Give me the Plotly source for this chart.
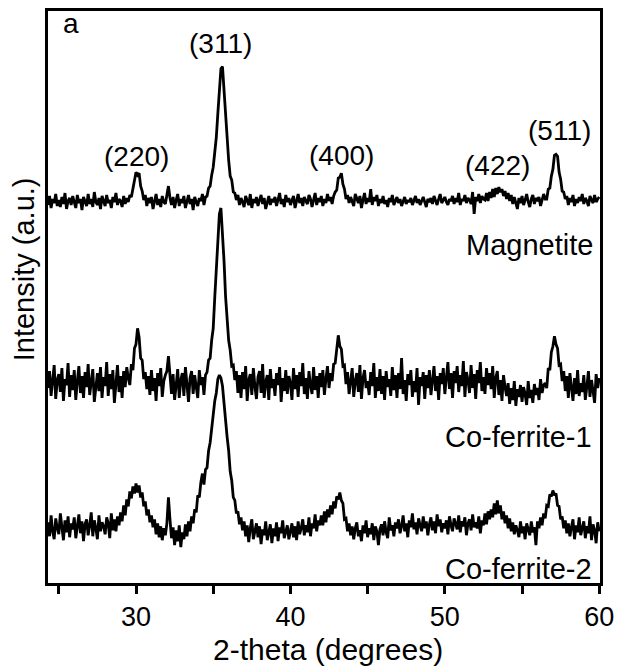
import numpy as np
import plotly.graph_objects as go

# 2-theta scan grid (degrees), 0.1 degree step from 24.3 to 60.0
THETA_START = 24.3
THETA_STEP = 0.1

# Stacked intensities (a.u.), one row per degree
magnetite = [
    380, 389, 377, 386, 382, 391, 379,
    385, 378, 388, 381, 392, 376, 384, 387, 380, 389,
    383, 377, 390, 382, 386, 375, 388, 384, 379, 391,
    381, 386, 378, 393, 383, 380, 387, 376, 389, 384,
    379, 390, 382, 385, 377, 388, 383, 392, 380, 386,
    384, 378, 389, 381, 387, 383, 390, 388, 397, 403,
    413, 410, 412, 399, 394, 385, 390, 379, 387, 382,
    388, 376, 385, 391, 380, 386, 378, 389, 383, 381,
    390, 399, 387, 380, 388, 377, 385, 391, 379, 386,
    382, 389, 377, 384, 390, 381, 386, 375, 388, 383,
    379, 387, 384, 391, 380, 388, 389, 397, 399, 410,
    418, 433, 448, 472, 494, 517, 519, 493, 472, 448,
    425, 409, 405, 393, 392, 385, 390, 380, 387, 383,
    378, 389, 384, 380, 391, 377, 386, 382, 388, 379,
    385, 390, 381, 387, 376, 384, 389, 380, 386, 383,
    388, 379, 385, 392, 381, 386, 378, 390, 383, 387,
    380, 386, 389, 377, 384, 391, 382, 387, 379, 388,
    384, 381, 390, 386, 378, 385, 392, 380, 387, 383,
    389, 379, 386, 382, 391, 384, 388, 381, 389, 393,
    395, 407, 408, 412, 401, 396, 386, 390, 382, 388,
    384, 379, 391, 386, 382, 389, 377, 385, 392, 381,
    387, 383, 396, 380, 388, 384, 390, 379, 386, 382,
    389, 381, 385, 378, 387, 383, 390, 380, 385, 388,
    382, 386, 379, 384, 388, 381, 385, 383, 387, 380,
    385, 389, 382, 386, 380, 384, 388, 383, 378, 386,
    383, 387, 381, 389, 384, 380, 386, 391, 382, 385,
    388, 383, 380, 386, 384, 389, 381, 387, 383, 392,
    380, 386, 384, 390, 382, 387, 385, 381, 393, 371,
    388, 384, 391, 382, 389, 386, 385, 392, 384, 393,
    387, 396, 388, 397, 391, 398, 393, 396, 389, 394,
    386, 392, 384, 390, 381, 388, 383, 376, 387, 382,
    389, 380, 385, 391, 383, 378, 386, 390, 381, 387,
    384, 388, 379, 386, 391, 386, 386, 396, 397, 409,
    416, 430, 431, 429, 413, 406, 394, 393, 386, 389,
    380, 387, 383, 390, 379, 386, 382, 388, 384, 391,
    381, 387, 384, 379, 389, 385, 382, 390, 383, 386,
    388,
]

co_ferrite_1 = [
    196, 213, 188, 207, 219, 185, 204,
    210, 192, 216, 183, 205, 199, 221, 187, 209, 194,
    214, 184, 203, 218, 191, 208, 186, 212, 197, 220,
    189, 206, 215, 182, 201, 211, 193, 217, 186, 207,
    198, 222, 188, 210, 195, 214, 181, 204, 219, 192,
    208, 186, 213, 197, 217, 206, 199, 220, 214, 236,
    240, 256, 247, 226, 224, 205, 212, 195, 208, 189,
    214, 193, 206, 183, 211, 198, 216, 187, 203, 209,
    213, 228, 205, 190, 210, 184, 199, 215, 186, 204,
    211, 188, 217, 195, 182, 206, 213, 190, 209, 197,
    186, 214, 199, 207, 189, 209, 212, 224, 226, 244,
    256, 287, 316, 351, 371, 377, 353, 324, 288, 267,
    244, 234, 218, 219, 204, 213, 191, 209, 186, 212,
    195, 218, 183, 204, 210, 189, 216, 198, 185, 207,
    213, 191, 220, 186, 202, 209, 184, 215, 196, 205,
    188, 211, 199, 217, 182, 206, 193, 214, 190, 208,
    201, 184, 216, 195, 209, 187, 212, 198, 221, 190,
    206, 185, 213, 199, 190, 217, 194, 208, 186, 211,
    197, 214, 189, 205, 218, 196, 211, 203, 220, 221,
    236, 249, 238, 235, 218, 219, 200, 212, 190, 207,
    216, 187, 203, 211, 192, 219, 185, 206, 214, 196,
    203, 189, 212, 198, 221, 186, 207, 193, 215, 190,
    208, 184, 213, 197, 205, 188, 217, 194, 209, 186,
    211, 195, 226, 190, 204, 183, 210, 199, 214, 187,
    203, 192, 216, 179, 207, 198, 212, 185, 209, 196,
    214, 189, 205, 218, 193, 208, 184, 211, 200, 216,
    190, 207, 222, 195, 211, 186, 213, 201, 218, 192,
    209, 198, 223, 187, 212, 204, 191, 219, 196, 210,
    185, 214, 201, 222, 193, 207, 190, 216, 199, 211,
    195, 218, 186, 206, 213, 189, 204, 183, 209, 197,
    188, 201, 180, 196, 184, 203, 178, 195, 187, 199,
    182, 197, 190, 179, 203, 186, 194, 181, 200, 189,
    196, 184, 205, 191, 199, 201, 196, 216, 214, 232,
    238, 248, 240, 236, 219, 220, 203, 213, 193, 208,
    186, 211, 195, 183, 206, 190, 214, 188, 201, 192,
    209, 184, 198, 213, 187, 204, 193, 181, 210, 196,
    206,
]

co_ferrite_2 = [
    61, 47, 68, 52, 44, 65, 55,
    49, 70, 58, 43, 63, 51, 67, 46, 60, 54,
    66, 45, 57, 69, 50, 62, 42, 59, 64, 48,
    58, 71, 47, 63, 55, 44, 68, 52, 61, 57,
    49, 66, 60, 45, 70, 53, 64, 52, 67, 58,
    71, 62, 78, 68, 84, 77, 92, 85, 97, 90,
    100, 91, 98, 86, 91, 77, 82, 68, 74, 61,
    68, 56, 64, 49, 60, 46, 57, 43, 55, 48,
    60, 86, 64, 45, 56, 38, 53, 42, 58, 36,
    51, 44, 59, 47, 62, 52, 67, 60, 74, 71,
    88, 86, 101, 110, 99, 114, 116, 133, 141, 157,
    166, 183, 191, 205, 209, 206, 198, 178, 166, 147,
    133, 112, 103, 86, 83, 70, 72, 59, 66, 53,
    62, 47, 58, 41, 55, 64, 44, 52, 60, 46,
    57, 39, 54, 48, 62, 43, 51, 59, 40, 55,
    47, 61, 42, 56, 50, 63, 45, 53, 58, 44,
    52, 60, 46, 57, 43, 62, 49, 55, 64, 48,
    58, 51, 66, 47, 60, 55, 69, 52, 63, 58,
    68, 58, 72, 61, 74, 66, 78, 69, 82, 75,
    87, 84, 91, 83, 80, 64, 65, 52, 60, 48,
    57, 44, 55, 61, 47, 53, 42, 58, 50, 63,
    46, 55, 49, 60, 43, 57, 52, 38, 54, 59,
    48, 62, 51, 45, 66, 53, 58, 47, 61, 55,
    64, 50, 57, 68, 52, 60, 46, 63, 56, 70,
    54, 61, 49, 65, 58, 52, 67, 55, 62, 48,
    59, 66, 53, 62, 50, 69, 57, 64, 51, 60,
    55, 63, 49, 67, 58, 52, 65, 60, 54, 68,
    51, 62, 57, 66, 48, 60, 64, 53, 69, 56,
    61, 55, 67, 50, 63, 58, 70, 59, 72, 64,
    74, 66, 80, 69, 83, 70, 78, 64, 72, 60,
    68, 55, 65, 52, 61, 49, 58, 53, 46, 62,
    50, 57, 44, 60, 53, 48, 62, 51, 56, 38,
    62, 55, 66, 58, 70, 65, 78, 77, 89, 87,
    93, 88, 90, 78, 77, 64, 67, 55, 63, 50,
    60, 47, 56, 64, 44, 58, 51, 66, 48, 55,
    62, 45, 57, 50, 67, 43, 59, 53, 40, 61,
    52,
]

series_names = ["Magnetite", "Co-ferrite-1", "Co-ferrite-2"]

# Miller-index labels: (text, 2-theta, intensity)
hkl_labels = ["(220)", "(311)", "(400)", "(422)", "(511)"]
hkl_theta = [30.0, 35.5, 43.3, 53.4, 57.4]
hkl_y = [429, 542, 430, 420, 455]

# Sample name labels (right aligned)
name_theta = [59.75, 59.65, 59.65]
name_y = [340, 147, 14]

tick_vals = [25, 30, 35, 40, 45, 50, 55, 60]
tick_text = ["", "30", "", "40", "", "50", "", "60"]

n = len(magnetite)
assert len(co_ferrite_1) == n and len(co_ferrite_2) == n, (n, len(co_ferrite_1), len(co_ferrite_2))
theta = np.round(THETA_START + THETA_STEP * np.arange(n), 2)

FONT = "Liberation Sans, Arial, Helvetica, sans-serif"

fig = go.Figure()
for ys in (magnetite, co_ferrite_1, co_ferrite_2):
    fig.add_trace(go.Scatter(x=theta, y=ys, mode="lines",
                             line=dict(color="black", width=2.8),
                             showlegend=False, hoverinfo="skip"))

annotations = []
for t, xv, yv in zip(hkl_labels, hkl_theta, hkl_y):
    annotations.append(dict(x=xv, y=yv, xref="x", yref="y", text=t, showarrow=False,
                            font=dict(size=28, color="black", family=FONT),
                            xanchor="center", yanchor="middle"))
for t, xv, yv in zip(series_names, name_theta, name_y):
    annotations.append(dict(x=xv, y=yv, xref="x", yref="y", text=t, showarrow=False,
                            font=dict(size=29, color="black", family=FONT),
                            xanchor="right", yanchor="middle"))
annotations.append(dict(x=25.8, y=562, xref="x", yref="y", text="a", showarrow=False,
                        font=dict(size=28, color="black", family=FONT),
                        xanchor="center", yanchor="middle"))
annotations.append(dict(x=-0.044, y=0.548, xref="paper", yref="paper",
                        text="Intensity (a.u.)", textangle=-90, showarrow=False,
                        font=dict(size=29, color="black", family=FONT),
                        xanchor="center", yanchor="middle"))
annotations.append(dict(x=0.507, y=-0.1165, xref="paper", yref="paper",
                        text="2-theta (degrees)", showarrow=False,
                        font=dict(size=30, color="black", family=FONT),
                        xanchor="center", yanchor="middle"))

fig.update_layout(
    width=622, height=672,
    margin=dict(l=48, r=16, t=8, b=89),
    paper_bgcolor="white", plot_bgcolor="white",
    font=dict(family=FONT, color="black"),
    annotations=annotations,
    xaxis=dict(range=[24.3, 60.05], tickvals=tick_vals, ticktext=tick_text,
               ticks="outside", ticklen=8, tickwidth=2.5, tickcolor="black",
               showline=True, linewidth=2.5, linecolor="black", mirror=True,
               showgrid=False, zeroline=False,
               tickfont=dict(size=27, color="black", family=FONT)),
    yaxis=dict(range=[0, 575], showticklabels=False, ticks="",
               showline=True, linewidth=2.5, linecolor="black", mirror=True,
               showgrid=False, zeroline=False),
)

fig.write_html("out.html")
